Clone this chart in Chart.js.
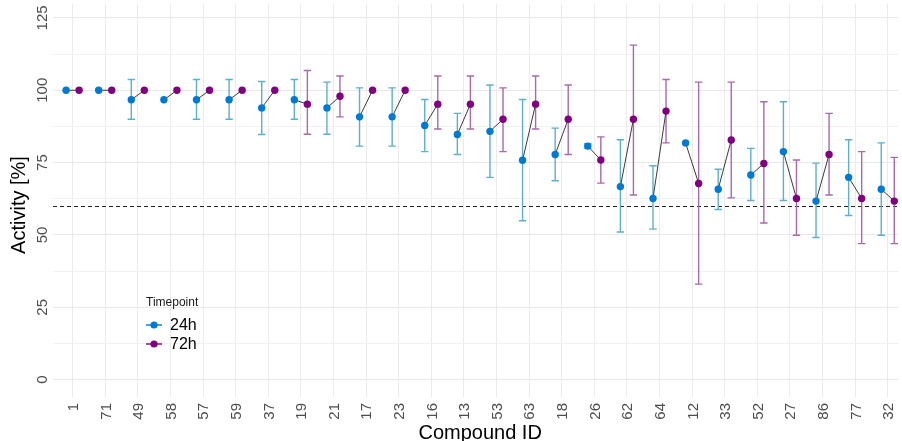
<!DOCTYPE html>
<html>
<head>
<meta charset="utf-8">
<script src="https://cdn.jsdelivr.net/npm/chart.js@4.4.1/dist/chart.umd.min.js"></script>
<style>
  html, body { margin: 0; padding: 0; background: #ffffff; }
  #wrap { width: 902px; height: 441px; position: relative; }
</style>
</head>
<body>
<div id="wrap"><canvas id="c" width="902" height="441"></canvas></div>
<script>
// ---- data ----
const categories = ['1','71','49','58','57','59','37','19','21','17','23','16','13','53','63','18','26','62','64','12','33','52','27','86','77','32'];
const act24 = [100,100,96.7,96.7,96.7,96.7,93.9,96.7,93.9,90.8,90.8,87.8,84.7,85.8,75.8,77.8,80.7,66.7,62.6,81.8,65.8,70.7,78.8,61.7,69.9,65.8];
const lo24  = [null,null,90,null,90,90,84.7,90,84.8,80.7,80.7,78.8,77.8,69.9,54.9,68.7,79.9,51,52,null,58.8,61.9,61.9,49.1,56.7,49.9];
const hi24  = [null,null,103.7,null,103.7,103.7,103,103.7,102.8,100.8,100.8,96.8,92,101.8,96.8,86.9,81.5,82.9,73.9,null,72.7,79.9,96,74.8,82.9,81.8];
const act72 = [100,100,100,100,100,100,100,95.2,97.9,100,100,95.2,95.2,90,95.2,90,75.9,90,92.8,67.8,82.8,74.7,62.6,77.8,62.6,61.7];
const lo72  = [null,null,null,null,null,null,null,84.8,90.8,null,null,86.6,86.6,78.8,86.6,77.8,67.9,63.8,81.8,33,62.8,54.1,49.9,63.8,47,47];
const hi72  = [null,null,null,null,null,null,null,106.8,104.9,null,null,104.9,104.9,100.8,104.9,101.8,83.9,115.6,103.7,102.8,102.8,96,75.9,92,78.8,76.8];
const yTicks = [0,25,50,75,100,125];
const threshold = 60;
const seriesNames = ['24h','72h'];
const legendTitle = 'Timepoint';

// ---- styles ----
const C24 = '#0079d3', C72 = '#800080';
const E24 = '#5eafcb', E72 = '#a86aab';
const DODGE = 0.2;
const FONT = '"Liberation Sans", Arial, sans-serif';

const pts24 = act24.map((v,i)=>({x:i+1-DODGE, y:v}));
const pts72 = act72.map((v,i)=>({x:i+1+DODGE, y:v}));
const conn = [];
act24.forEach((v,i)=>{ conn.push({x:i+1-DODGE,y:v}); conn.push({x:i+1+DODGE,y:act72[i]}); conn.push({x:i+1,y:null}); });

const overlay = {
  id:'overlay',
  beforeDatasetsDraw(chart){
    const {ctx, chartArea:a, scales:{x,y}} = chart;
    ctx.save();
    // threshold dashed line
    ctx.strokeStyle = '#222'; ctx.lineWidth = 1; ctx.setLineDash([4,3]);
    const ty = Math.round(y.getPixelForValue(threshold))+0.5;
    ctx.beginPath(); ctx.moveTo(a.left, ty); ctx.lineTo(a.right, ty); ctx.stroke();
    ctx.setLineDash([]);
    // error bars
    const bars = (lo, hi, off, col)=>{
      ctx.strokeStyle = col; ctx.lineWidth = 1.4;
      lo.forEach((l,i)=>{
        if (l===null || hi[i]===null) return;
        const px = x.getPixelForValue(i+1+off);
        const p1 = y.getPixelForValue(l), p2 = y.getPixelForValue(hi[i]);
        ctx.beginPath();
        ctx.moveTo(px,p1); ctx.lineTo(px,p2);
        ctx.moveTo(px-3.7,p1); ctx.lineTo(px+3.7,p1);
        ctx.moveTo(px-3.7,p2); ctx.lineTo(px+3.7,p2);
        ctx.stroke();
      });
    };
    bars(lo24, hi24, -DODGE, E24);
    bars(lo72, hi72, DODGE, E72);
    ctx.restore();
  },
  afterDraw(chart){
    const {ctx, chartArea:a, scales:{x,y}} = chart;
    ctx.save();
    ctx.fillStyle = '#4d4d4d';
    ctx.font = '15px ' + FONT;
    // y tick labels (rotated)
    yTicks.forEach(v=>{
      const py = y.getPixelForValue(v);
      ctx.save(); ctx.translate(46.5, py); ctx.rotate(-Math.PI/2);
      ctx.textAlign='center'; ctx.textBaseline='alphabetic';
      ctx.fillText(String(v), 0, 0); ctx.restore();
    });
    // x tick labels (rotated)
    categories.forEach((c,i)=>{
      const px = x.getPixelForValue(i+1);
      ctx.save(); ctx.translate(px+5.4, 403); ctx.rotate(-Math.PI/2);
      ctx.textAlign='right'; ctx.textBaseline='alphabetic';
      ctx.fillText(c, 0, 0); ctx.restore();
    });
    // axis titles
    ctx.fillStyle = '#000';
    ctx.font = '20px ' + FONT;
    ctx.textAlign = 'center'; ctx.textBaseline = 'alphabetic';
    ctx.fillText('Compound ID', (a.left+ x.getPixelForValue(26.6))/2, 439);
    ctx.save(); ctx.translate(25, 205); ctx.rotate(-Math.PI/2);
    ctx.fillText('Activity [%]', 0, 0); ctx.restore();
    // legend
    ctx.textAlign='left'; ctx.textBaseline='middle';
    ctx.fillStyle = '#1a1a1a';
    ctx.font = '12px ' + FONT;
    ctx.fillText(legendTitle, 146, 303);
    const items = [[seriesNames[0], C24, 325],[seriesNames[1], C72, 344]];
    items.forEach(([lab,col,ly])=>{
      ctx.strokeStyle = col; ctx.lineWidth = 1.4;
      ctx.beginPath(); ctx.moveTo(146, ly); ctx.lineTo(162, ly); ctx.stroke();
      ctx.fillStyle = col;
      ctx.beginPath(); ctx.arc(154, ly, 3.6, 0, Math.PI*2); ctx.fill();
      ctx.fillStyle = '#000';
      ctx.font = '16px ' + FONT;
      ctx.fillText(lab, 170, ly+0.5);
    });
    ctx.restore();
  }
};

new Chart(document.getElementById('c'), {
  type: 'scatter',
  data: {
    datasets: [
      { label: seriesNames[0], data: pts24, backgroundColor: C24, borderWidth: 0, pointRadius: 3.7, order: 1 },
      { label: seriesNames[1], data: pts72, backgroundColor: C72, borderWidth: 0, pointRadius: 3.7, order: 2 },
      { type: 'line', label: 'link', data: conn, borderColor: '#3a3a3a', borderWidth: 1, pointRadius: 0, spanGaps: false, fill: false, order: 3 }
    ]
  },
  options: {
    responsive: false,
    animation: false,
    devicePixelRatio: 1,
    layout: { padding: { left: 53, right: 0, top: 0, bottom: 44 } },
    plugins: { legend: { display: false }, tooltip: { enabled: false } },
    scales: {
      x: {
        type: 'linear', min: 0.399, max: 26.314,
        afterBuildTicks: s => { s.ticks = categories.map((c,i)=>({value:i+1})); },
        afterFit: s => { s.height = 0; },
        ticks: { display: false },
        grid: { color: '#ebebeb', lineWidth: 1, drawTicks: false },
        border: { display: false }
      },
      y: {
        type: 'linear', min: -6, max: 129.8,
        afterBuildTicks: s => { const t=[]; for (let v=0; v<=125; v+=12.5) t.push({value:v}); s.ticks = t; },
        afterFit: s => { s.width = 0; },
        ticks: { display: false },
        grid: { color: ctx => (ctx.tick && ctx.tick.value % 25 === 0) ? '#e9e9e9' : '#f1f1f1', lineWidth: 1, drawTicks: false },
        border: { display: false }
      }
    }
  },
  plugins: [overlay]
});
</script>
</body>
</html>
